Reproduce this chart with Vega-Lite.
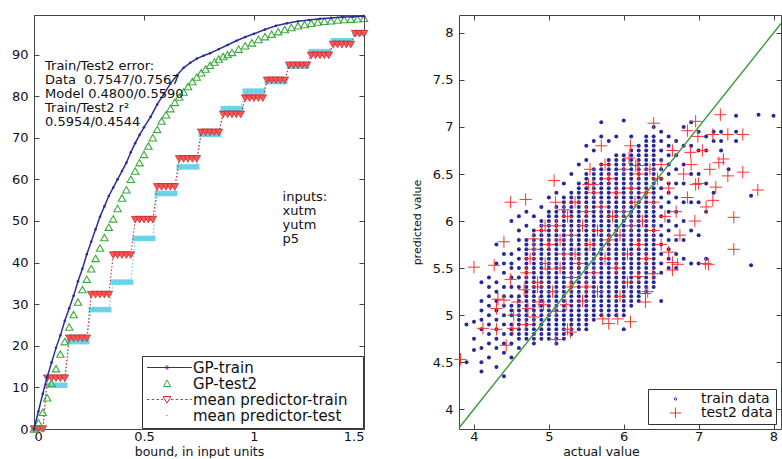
{
"$schema":"https://vega.github.io/schema/vega-lite/v6.json",
"background":"white",
"padding":{"left":10,"top":12,"right":0,"bottom":0},
"config":{"view":{"stroke":"#444","strokeWidth":1},"font":"DejaVu Sans",
"axis":{"labelFont":"DejaVu Sans","labelFontSize":13,"labelColor":"#111","titleFont":"DejaVu Sans","titleFontSize":13,"titleFontWeight":"normal","titleColor":"#111","grid":false,"domain":false,"tickColor":"#444","tickSize":-5,"labelPadding":11,"format":"~r"},
"legend":{"labelFont":"DejaVu Sans","labelFontSize":14,"labelColor":"#111","strokeColor":"#333","fillColor":"white","padding":4,"rowPadding":-1,"symbolSize":144,"symbolStrokeWidth":1,"labelLimit":400,"title":null,"orient":"bottom-right","offset":1}},
"datasets":{
"gptrain":[{"x":0,"y":0},{"x":0.02,"y":4.2},{"x":0.04,"y":8.5},{"x":0.06,"y":12.5},{"x":0.08,"y":16},{"x":0.1,"y":19.5},{"x":0.12,"y":22.5},{"x":0.14,"y":26},{"x":0.16,"y":29},{"x":0.18,"y":32},{"x":0.2,"y":35.5},{"x":0.22,"y":38.5},{"x":0.24,"y":42},{"x":0.26,"y":45},{"x":0.28,"y":48},{"x":0.3,"y":51},{"x":0.32,"y":53.5},{"x":0.34,"y":56},{"x":0.36,"y":58},{"x":0.38,"y":60},{"x":0.4,"y":62},{"x":0.42,"y":64},{"x":0.44,"y":66.5},{"x":0.46,"y":68.7},{"x":0.48,"y":70.7},{"x":0.5,"y":72.5},{"x":0.53,"y":75},{"x":0.56,"y":78},{"x":0.59,"y":80.5},{"x":0.62,"y":83},{"x":0.65,"y":85},{"x":0.68,"y":86.8},{"x":0.71,"y":88},{"x":0.74,"y":89},{"x":0.77,"y":89.7},{"x":0.8,"y":90.3},{"x":0.84,"y":91.3},{"x":0.88,"y":92.3},{"x":0.92,"y":93.3},{"x":0.96,"y":94.2},{"x":1,"y":95},{"x":1.05,"y":96},{"x":1.1,"y":96.9},{"x":1.15,"y":97.5},{"x":1.2,"y":98},{"x":1.25,"y":98.3},{"x":1.3,"y":98.6},{"x":1.35,"y":98.8},{"x":1.4,"y":99},{"x":1.45,"y":99.1},{"x":1.5,"y":99.2}],
"gptest":[{"x":0,"y":0},{"x":0.02,"y":1.5},{"x":0.04,"y":4},{"x":0.06,"y":7.5},{"x":0.08,"y":11},{"x":0.1,"y":14.5},{"x":0.12,"y":18},{"x":0.14,"y":21},{"x":0.16,"y":24.5},{"x":0.18,"y":27.5},{"x":0.2,"y":30.5},{"x":0.22,"y":33.5},{"x":0.24,"y":36},{"x":0.26,"y":38.5},{"x":0.28,"y":41},{"x":0.3,"y":43.5},{"x":0.32,"y":46},{"x":0.34,"y":48.5},{"x":0.36,"y":50.5},{"x":0.38,"y":53},{"x":0.4,"y":55.5},{"x":0.42,"y":57.5},{"x":0.44,"y":60},{"x":0.46,"y":62},{"x":0.48,"y":64},{"x":0.5,"y":66},{"x":0.52,"y":68},{"x":0.54,"y":70},{"x":0.56,"y":72},{"x":0.58,"y":74},{"x":0.6,"y":75.5},{"x":0.62,"y":77},{"x":0.64,"y":78.5},{"x":0.66,"y":79.8},{"x":0.68,"y":81},{"x":0.7,"y":82.3},{"x":0.72,"y":83.5},{"x":0.74,"y":84.6},{"x":0.76,"y":85.6},{"x":0.78,"y":86.5},{"x":0.8,"y":87.4},{"x":0.82,"y":88.2},{"x":0.84,"y":88.9},{"x":0.86,"y":89.5},{"x":0.88,"y":90},{"x":0.9,"y":90.5},{"x":0.93,"y":91.3},{"x":0.96,"y":92.1},{"x":0.99,"y":92.8},{"x":1.02,"y":93.6},{"x":1.05,"y":94.3},{"x":1.08,"y":94.9},{"x":1.11,"y":95.5},{"x":1.14,"y":96},{"x":1.17,"y":96.5},{"x":1.2,"y":96.9},{"x":1.23,"y":97.2},{"x":1.26,"y":97.5},{"x":1.29,"y":97.8},{"x":1.32,"y":98},{"x":1.35,"y":98.1},{"x":1.38,"y":98.3},{"x":1.41,"y":98.4},{"x":1.44,"y":98.5},{"x":1.47,"y":98.6},{"x":1.5,"y":98.7}],
"mtrain":[{"x":0,"y":0},{"x":0.02,"y":0},{"x":0.04,"y":0},{"x":0.06,"y":12.2},{"x":0.08,"y":12.2},{"x":0.1,"y":12.2},{"x":0.12,"y":12.2},{"x":0.14,"y":12.2},{"x":0.16,"y":21.8},{"x":0.18,"y":21.8},{"x":0.2,"y":21.8},{"x":0.22,"y":21.8},{"x":0.24,"y":21.8},{"x":0.26,"y":32.3},{"x":0.28,"y":32.3},{"x":0.3,"y":32.3},{"x":0.32,"y":32.3},{"x":0.34,"y":32.3},{"x":0.36,"y":41.8},{"x":0.38,"y":41.8},{"x":0.4,"y":41.8},{"x":0.42,"y":41.8},{"x":0.44,"y":41.8},{"x":0.46,"y":50.3},{"x":0.48,"y":50.3},{"x":0.5,"y":50.3},{"x":0.52,"y":50.3},{"x":0.54,"y":50.3},{"x":0.56,"y":58.2},{"x":0.58,"y":58.2},{"x":0.6,"y":58.2},{"x":0.62,"y":58.2},{"x":0.64,"y":58.2},{"x":0.66,"y":64.9},{"x":0.68,"y":64.9},{"x":0.7,"y":64.9},{"x":0.72,"y":64.9},{"x":0.74,"y":64.9},{"x":0.76,"y":71.3},{"x":0.78,"y":71.3},{"x":0.8,"y":71.3},{"x":0.82,"y":71.3},{"x":0.84,"y":71.3},{"x":0.86,"y":75.6},{"x":0.88,"y":75.6},{"x":0.9,"y":75.6},{"x":0.92,"y":75.6},{"x":0.94,"y":75.6},{"x":0.96,"y":79.5},{"x":0.98,"y":79.5},{"x":1,"y":79.5},{"x":1.02,"y":79.5},{"x":1.04,"y":79.5},{"x":1.06,"y":83.8},{"x":1.08,"y":83.8},{"x":1.1,"y":83.8},{"x":1.12,"y":83.8},{"x":1.14,"y":83.8},{"x":1.16,"y":87.4},{"x":1.18,"y":87.4},{"x":1.2,"y":87.4},{"x":1.22,"y":87.4},{"x":1.24,"y":87.4},{"x":1.26,"y":89.8},{"x":1.28,"y":89.8},{"x":1.3,"y":89.8},{"x":1.32,"y":89.8},{"x":1.34,"y":89.8},{"x":1.36,"y":92.4},{"x":1.38,"y":92.4},{"x":1.4,"y":92.4},{"x":1.42,"y":92.4},{"x":1.44,"y":92.4},{"x":1.46,"y":95},{"x":1.48,"y":95},{"x":1.5,"y":95}],
"mtest":[{"x":0,"y":0},{"x":0.02,"y":0},{"x":0.04,"y":0},{"x":0.06,"y":10.5},{"x":0.08,"y":10.5},{"x":0.1,"y":10.5},{"x":0.12,"y":10.5},{"x":0.14,"y":10.5},{"x":0.16,"y":21},{"x":0.18,"y":21},{"x":0.2,"y":21},{"x":0.22,"y":21},{"x":0.24,"y":21},{"x":0.26,"y":28.7},{"x":0.28,"y":28.7},{"x":0.3,"y":28.7},{"x":0.32,"y":28.7},{"x":0.34,"y":28.7},{"x":0.36,"y":35.3},{"x":0.38,"y":35.3},{"x":0.4,"y":35.3},{"x":0.42,"y":35.3},{"x":0.44,"y":35.3},{"x":0.46,"y":45.8},{"x":0.48,"y":45.8},{"x":0.5,"y":45.8},{"x":0.52,"y":45.8},{"x":0.54,"y":45.8},{"x":0.56,"y":56.6},{"x":0.58,"y":56.6},{"x":0.6,"y":56.6},{"x":0.62,"y":56.6},{"x":0.64,"y":56.6},{"x":0.66,"y":63},{"x":0.68,"y":63},{"x":0.7,"y":63},{"x":0.72,"y":63},{"x":0.74,"y":63},{"x":0.76,"y":70.8},{"x":0.78,"y":70.8},{"x":0.8,"y":70.8},{"x":0.82,"y":70.8},{"x":0.84,"y":70.8},{"x":0.86,"y":77},{"x":0.88,"y":77},{"x":0.9,"y":77},{"x":0.92,"y":77},{"x":0.94,"y":77},{"x":0.96,"y":81.2},{"x":0.98,"y":81.2},{"x":1,"y":81.2},{"x":1.02,"y":81.2},{"x":1.04,"y":81.2},{"x":1.06,"y":83.5},{"x":1.08,"y":83.5},{"x":1.1,"y":83.5},{"x":1.12,"y":83.5},{"x":1.14,"y":83.5},{"x":1.16,"y":87.2},{"x":1.18,"y":87.2},{"x":1.2,"y":87.2},{"x":1.22,"y":87.2},{"x":1.24,"y":87.2},{"x":1.26,"y":90.7},{"x":1.28,"y":90.7},{"x":1.3,"y":90.7},{"x":1.32,"y":90.7},{"x":1.34,"y":90.7},{"x":1.36,"y":93.3},{"x":1.38,"y":93.3},{"x":1.4,"y":93.3},{"x":1.42,"y":93.3},{"x":1.44,"y":93.3},{"x":1.46,"y":95.2},{"x":1.48,"y":95.2},{"x":1.5,"y":95.2}],
"leftkeys":[{"s":"GP-train"},{"s":"GP-test2"},{"s":"mean predictor-train"},{"s":"mean predictor-test"}],
"rightkeys":[{"s":"train data"},{"s":"test2 data"}],
"diag":[{"a":3.8,"p":3.8},{"a":8.1,"p":8.1}],
"train":[
{"a":3.9,"p":4.5},{"a":3.9,"p":4.9},
{"a":4.0,"p":4.63},{"a":4.0,"p":4.75},{"a":4.0,"p":4.93},
{"a":4.1,"p":4.4},{"a":4.1,"p":4.5},{"a":4.1,"p":4.65},{"a":4.1,"p":4.85},{"a":4.1,"p":4.95},{"a":4.1,"p":5.05},{"a":4.1,"p":5.15},{"a":4.1,"p":5.35},
{"a":4.2,"p":4.55},{"a":4.2,"p":4.7},{"a":4.2,"p":4.8},{"a":4.2,"p":4.9},{"a":4.2,"p":5.0},{"a":4.2,"p":5.1},{"a":4.2,"p":5.2},{"a":4.2,"p":5.3},{"a":4.2,"p":5.4},
{"a":4.3,"p":4.45},{"a":4.3,"p":4.65},{"a":4.3,"p":4.75},{"a":4.3,"p":4.85},{"a":4.3,"p":4.95},{"a":4.3,"p":5.05},{"a":4.3,"p":5.15},{"a":4.3,"p":5.25},{"a":4.3,"p":5.35},{"a":4.3,"p":5.55},{"a":4.3,"p":5.75},
{"a":4.4,"p":4.35},{"a":4.4,"p":4.6},{"a":4.4,"p":4.7},{"a":4.4,"p":4.8},{"a":4.4,"p":4.9},{"a":4.4,"p":5.0},{"a":4.4,"p":5.1},{"a":4.4,"p":5.2},{"a":4.4,"p":5.3},{"a":4.4,"p":5.45},{"a":4.4,"p":5.55},{"a":4.4,"p":5.65},
{"a":4.5,"p":4.55},{"a":4.5,"p":4.7},{"a":4.5,"p":4.8},{"a":4.5,"p":4.85},{"a":4.5,"p":4.9},{"a":4.5,"p":5.0},{"a":4.5,"p":5.05},{"a":4.5,"p":5.1},{"a":4.5,"p":5.2},{"a":4.5,"p":5.3},{"a":4.5,"p":5.4},{"a":4.5,"p":5.5},{"a":4.5,"p":5.55},{"a":4.5,"p":5.65},{"a":4.5,"p":6.0},
{"a":4.6,"p":4.65},{"a":4.6,"p":4.75},{"a":4.6,"p":4.8},{"a":4.6,"p":4.85},{"a":4.6,"p":4.9},{"a":4.6,"p":4.95},{"a":4.6,"p":5.0},{"a":4.6,"p":5.05},{"a":4.6,"p":5.1},{"a":4.6,"p":5.15},{"a":4.6,"p":5.2},{"a":4.6,"p":5.3},{"a":4.6,"p":5.4},{"a":4.6,"p":5.5},{"a":4.6,"p":5.6},{"a":4.6,"p":5.7},{"a":4.6,"p":5.8},{"a":4.6,"p":5.9},{"a":4.6,"p":6.05},
{"a":4.7,"p":4.75},{"a":4.7,"p":4.8},{"a":4.7,"p":4.85},{"a":4.7,"p":4.9},{"a":4.7,"p":4.95},{"a":4.7,"p":5.0},{"a":4.7,"p":5.05},{"a":4.7,"p":5.1},{"a":4.7,"p":5.15},{"a":4.7,"p":5.2},{"a":4.7,"p":5.25},{"a":4.7,"p":5.3},{"a":4.7,"p":5.35},{"a":4.7,"p":5.4},{"a":4.7,"p":5.45},{"a":4.7,"p":5.5},{"a":4.7,"p":5.55},{"a":4.7,"p":5.6},{"a":4.7,"p":5.65},{"a":4.7,"p":5.7},{"a":4.7,"p":5.75},{"a":4.7,"p":5.8},{"a":4.7,"p":5.95},{"a":4.7,"p":6.1},
{"a":4.8,"p":4.7},{"a":4.8,"p":4.75},{"a":4.8,"p":4.8},{"a":4.8,"p":4.85},{"a":4.8,"p":4.9},{"a":4.8,"p":4.95},{"a":4.8,"p":5.0},{"a":4.8,"p":5.05},{"a":4.8,"p":5.1},{"a":4.8,"p":5.15},{"a":4.8,"p":5.2},{"a":4.8,"p":5.25},{"a":4.8,"p":5.3},{"a":4.8,"p":5.35},{"a":4.8,"p":5.4},{"a":4.8,"p":5.45},{"a":4.8,"p":5.5},{"a":4.8,"p":5.55},{"a":4.8,"p":5.6},{"a":4.8,"p":5.65},{"a":4.8,"p":5.7},{"a":4.8,"p":5.75},{"a":4.8,"p":5.8},{"a":4.8,"p":5.85},{"a":4.8,"p":5.9},{"a":4.8,"p":6.05},
{"a":4.9,"p":4.75},{"a":4.9,"p":4.8},{"a":4.9,"p":4.85},{"a":4.9,"p":4.9},{"a":4.9,"p":4.95},{"a":4.9,"p":5.0},{"a":4.9,"p":5.05},{"a":4.9,"p":5.1},{"a":4.9,"p":5.15},{"a":4.9,"p":5.2},{"a":4.9,"p":5.25},{"a":4.9,"p":5.3},{"a":4.9,"p":5.35},{"a":4.9,"p":5.4},{"a":4.9,"p":5.45},{"a":4.9,"p":5.5},{"a":4.9,"p":5.55},{"a":4.9,"p":5.6},{"a":4.9,"p":5.65},{"a":4.9,"p":5.7},{"a":4.9,"p":5.75},{"a":4.9,"p":5.8},{"a":4.9,"p":5.85},{"a":4.9,"p":5.9},{"a":4.9,"p":5.95},{"a":4.9,"p":6.0},{"a":4.9,"p":6.15},
{"a":5.0,"p":4.75},{"a":5.0,"p":4.8},{"a":5.0,"p":4.85},{"a":5.0,"p":4.9},{"a":5.0,"p":4.95},{"a":5.0,"p":5.0},{"a":5.0,"p":5.05},{"a":5.0,"p":5.1},{"a":5.0,"p":5.15},{"a":5.0,"p":5.2},{"a":5.0,"p":5.25},{"a":5.0,"p":5.3},{"a":5.0,"p":5.35},{"a":5.0,"p":5.4},{"a":5.0,"p":5.45},{"a":5.0,"p":5.5},{"a":5.0,"p":5.55},{"a":5.0,"p":5.6},{"a":5.0,"p":5.65},{"a":5.0,"p":5.7},{"a":5.0,"p":5.75},{"a":5.0,"p":5.8},{"a":5.0,"p":5.85},{"a":5.0,"p":5.9},{"a":5.0,"p":5.95},{"a":5.0,"p":6.0},{"a":5.0,"p":6.05},{"a":5.0,"p":6.1},{"a":5.0,"p":6.25},
{"a":5.1,"p":4.7},{"a":5.1,"p":4.75},{"a":5.1,"p":4.8},{"a":5.1,"p":4.85},{"a":5.1,"p":4.9},{"a":5.1,"p":4.95},{"a":5.1,"p":5.0},{"a":5.1,"p":5.05},{"a":5.1,"p":5.1},{"a":5.1,"p":5.15},{"a":5.1,"p":5.2},{"a":5.1,"p":5.25},{"a":5.1,"p":5.3},{"a":5.1,"p":5.35},{"a":5.1,"p":5.4},{"a":5.1,"p":5.45},{"a":5.1,"p":5.5},{"a":5.1,"p":5.55},{"a":5.1,"p":5.6},{"a":5.1,"p":5.65},{"a":5.1,"p":5.7},{"a":5.1,"p":5.75},{"a":5.1,"p":5.8},{"a":5.1,"p":5.85},{"a":5.1,"p":5.9},{"a":5.1,"p":5.95},{"a":5.1,"p":6.0},{"a":5.1,"p":6.05},{"a":5.1,"p":6.1},{"a":5.1,"p":6.15},{"a":5.1,"p":6.3},
{"a":5.2,"p":4.75},{"a":5.2,"p":4.8},{"a":5.2,"p":4.85},{"a":5.2,"p":4.9},{"a":5.2,"p":4.95},{"a":5.2,"p":5.0},{"a":5.2,"p":5.05},{"a":5.2,"p":5.1},{"a":5.2,"p":5.15},{"a":5.2,"p":5.2},{"a":5.2,"p":5.25},{"a":5.2,"p":5.3},{"a":5.2,"p":5.35},{"a":5.2,"p":5.4},{"a":5.2,"p":5.45},{"a":5.2,"p":5.5},{"a":5.2,"p":5.55},{"a":5.2,"p":5.6},{"a":5.2,"p":5.65},{"a":5.2,"p":5.7},{"a":5.2,"p":5.75},{"a":5.2,"p":5.8},{"a":5.2,"p":5.85},{"a":5.2,"p":5.9},{"a":5.2,"p":5.95},{"a":5.2,"p":6.0},{"a":5.2,"p":6.05},{"a":5.2,"p":6.1},{"a":5.2,"p":6.15},{"a":5.2,"p":6.2},{"a":5.2,"p":6.25},{"a":5.2,"p":6.4},
{"a":5.3,"p":4.8},{"a":5.3,"p":4.85},{"a":5.3,"p":4.9},{"a":5.3,"p":4.95},{"a":5.3,"p":5.0},{"a":5.3,"p":5.05},{"a":5.3,"p":5.1},{"a":5.3,"p":5.15},{"a":5.3,"p":5.2},{"a":5.3,"p":5.25},{"a":5.3,"p":5.3},{"a":5.3,"p":5.35},{"a":5.3,"p":5.4},{"a":5.3,"p":5.45},{"a":5.3,"p":5.5},{"a":5.3,"p":5.55},{"a":5.3,"p":5.6},{"a":5.3,"p":5.65},{"a":5.3,"p":5.7},{"a":5.3,"p":5.75},{"a":5.3,"p":5.8},{"a":5.3,"p":5.85},{"a":5.3,"p":5.9},{"a":5.3,"p":5.95},{"a":5.3,"p":6.0},{"a":5.3,"p":6.05},{"a":5.3,"p":6.1},{"a":5.3,"p":6.15},{"a":5.3,"p":6.2},{"a":5.3,"p":6.25},{"a":5.3,"p":6.3},{"a":5.3,"p":6.5},
{"a":5.4,"p":4.85},{"a":5.4,"p":4.9},{"a":5.4,"p":4.95},{"a":5.4,"p":5.0},{"a":5.4,"p":5.05},{"a":5.4,"p":5.1},{"a":5.4,"p":5.15},{"a":5.4,"p":5.2},{"a":5.4,"p":5.25},{"a":5.4,"p":5.3},{"a":5.4,"p":5.35},{"a":5.4,"p":5.4},{"a":5.4,"p":5.45},{"a":5.4,"p":5.5},{"a":5.4,"p":5.55},{"a":5.4,"p":5.6},{"a":5.4,"p":5.65},{"a":5.4,"p":5.7},{"a":5.4,"p":5.75},{"a":5.4,"p":5.8},{"a":5.4,"p":5.85},{"a":5.4,"p":5.9},{"a":5.4,"p":5.95},{"a":5.4,"p":6.0},{"a":5.4,"p":6.05},{"a":5.4,"p":6.1},{"a":5.4,"p":6.15},{"a":5.4,"p":6.2},{"a":5.4,"p":6.25},{"a":5.4,"p":6.3},{"a":5.4,"p":6.35},{"a":5.4,"p":6.4},{"a":5.4,"p":6.6},
{"a":5.5,"p":4.85},{"a":5.5,"p":4.9},{"a":5.5,"p":4.95},{"a":5.5,"p":5.0},{"a":5.5,"p":5.05},{"a":5.5,"p":5.1},{"a":5.5,"p":5.15},{"a":5.5,"p":5.2},{"a":5.5,"p":5.25},{"a":5.5,"p":5.3},{"a":5.5,"p":5.35},{"a":5.5,"p":5.4},{"a":5.5,"p":5.45},{"a":5.5,"p":5.5},{"a":5.5,"p":5.55},{"a":5.5,"p":5.6},{"a":5.5,"p":5.65},{"a":5.5,"p":5.7},{"a":5.5,"p":5.75},{"a":5.5,"p":5.8},{"a":5.5,"p":5.85},{"a":5.5,"p":5.9},{"a":5.5,"p":5.95},{"a":5.5,"p":6.0},{"a":5.5,"p":6.05},{"a":5.5,"p":6.1},{"a":5.5,"p":6.15},{"a":5.5,"p":6.2},{"a":5.5,"p":6.25},{"a":5.5,"p":6.3},{"a":5.5,"p":6.35},{"a":5.5,"p":6.4},{"a":5.5,"p":6.45},{"a":5.5,"p":6.5},{"a":5.5,"p":6.65},{"a":5.5,"p":6.8},
{"a":5.6,"p":4.95},{"a":5.6,"p":5.0},{"a":5.6,"p":5.05},{"a":5.6,"p":5.1},{"a":5.6,"p":5.15},{"a":5.6,"p":5.2},{"a":5.6,"p":5.25},{"a":5.6,"p":5.3},{"a":5.6,"p":5.35},{"a":5.6,"p":5.4},{"a":5.6,"p":5.45},{"a":5.6,"p":5.5},{"a":5.6,"p":5.55},{"a":5.6,"p":5.6},{"a":5.6,"p":5.65},{"a":5.6,"p":5.7},{"a":5.6,"p":5.75},{"a":5.6,"p":5.8},{"a":5.6,"p":5.85},{"a":5.6,"p":5.9},{"a":5.6,"p":5.95},{"a":5.6,"p":6.0},{"a":5.6,"p":6.05},{"a":5.6,"p":6.1},{"a":5.6,"p":6.15},{"a":5.6,"p":6.2},{"a":5.6,"p":6.25},{"a":5.6,"p":6.3},{"a":5.6,"p":6.35},{"a":5.6,"p":6.4},{"a":5.6,"p":6.45},{"a":5.6,"p":6.5},{"a":5.6,"p":6.55},{"a":5.6,"p":6.75},{"a":5.6,"p":6.85},
{"a":5.7,"p":5.0},{"a":5.7,"p":5.05},{"a":5.7,"p":5.1},{"a":5.7,"p":5.15},{"a":5.7,"p":5.2},{"a":5.7,"p":5.25},{"a":5.7,"p":5.3},{"a":5.7,"p":5.35},{"a":5.7,"p":5.4},{"a":5.7,"p":5.45},{"a":5.7,"p":5.5},{"a":5.7,"p":5.55},{"a":5.7,"p":5.6},{"a":5.7,"p":5.65},{"a":5.7,"p":5.7},{"a":5.7,"p":5.75},{"a":5.7,"p":5.8},{"a":5.7,"p":5.85},{"a":5.7,"p":5.9},{"a":5.7,"p":5.95},{"a":5.7,"p":6.0},{"a":5.7,"p":6.05},{"a":5.7,"p":6.1},{"a":5.7,"p":6.15},{"a":5.7,"p":6.2},{"a":5.7,"p":6.25},{"a":5.7,"p":6.3},{"a":5.7,"p":6.35},{"a":5.7,"p":6.4},{"a":5.7,"p":6.45},{"a":5.7,"p":6.5},{"a":5.7,"p":6.55},{"a":5.7,"p":6.6},{"a":5.7,"p":6.9},{"a":5.7,"p":7.05},
{"a":5.8,"p":5.0},{"a":5.8,"p":5.05},{"a":5.8,"p":5.1},{"a":5.8,"p":5.15},{"a":5.8,"p":5.2},{"a":5.8,"p":5.25},{"a":5.8,"p":5.3},{"a":5.8,"p":5.35},{"a":5.8,"p":5.4},{"a":5.8,"p":5.45},{"a":5.8,"p":5.5},{"a":5.8,"p":5.55},{"a":5.8,"p":5.6},{"a":5.8,"p":5.65},{"a":5.8,"p":5.7},{"a":5.8,"p":5.75},{"a":5.8,"p":5.8},{"a":5.8,"p":5.85},{"a":5.8,"p":5.9},{"a":5.8,"p":5.95},{"a":5.8,"p":6.0},{"a":5.8,"p":6.05},{"a":5.8,"p":6.1},{"a":5.8,"p":6.15},{"a":5.8,"p":6.2},{"a":5.8,"p":6.25},{"a":5.8,"p":6.3},{"a":5.8,"p":6.35},{"a":5.8,"p":6.4},{"a":5.8,"p":6.45},{"a":5.8,"p":6.5},{"a":5.8,"p":6.55},{"a":5.8,"p":6.6},{"a":5.8,"p":6.65},{"a":5.8,"p":6.85},
{"a":5.9,"p":5.0},{"a":5.9,"p":5.05},{"a":5.9,"p":5.1},{"a":5.9,"p":5.15},{"a":5.9,"p":5.2},{"a":5.9,"p":5.25},{"a":5.9,"p":5.3},{"a":5.9,"p":5.35},{"a":5.9,"p":5.4},{"a":5.9,"p":5.45},{"a":5.9,"p":5.5},{"a":5.9,"p":5.55},{"a":5.9,"p":5.6},{"a":5.9,"p":5.65},{"a":5.9,"p":5.7},{"a":5.9,"p":5.75},{"a":5.9,"p":5.8},{"a":5.9,"p":5.85},{"a":5.9,"p":5.9},{"a":5.9,"p":5.95},{"a":5.9,"p":6.0},{"a":5.9,"p":6.05},{"a":5.9,"p":6.1},{"a":5.9,"p":6.15},{"a":5.9,"p":6.2},{"a":5.9,"p":6.25},{"a":5.9,"p":6.3},{"a":5.9,"p":6.35},{"a":5.9,"p":6.4},{"a":5.9,"p":6.45},{"a":5.9,"p":6.5},{"a":5.9,"p":6.55},{"a":5.9,"p":6.6},{"a":5.9,"p":6.65},{"a":5.9,"p":6.7},{"a":5.9,"p":6.9},
{"a":6.0,"p":4.85},{"a":6.0,"p":5.0},{"a":6.0,"p":5.05},{"a":6.0,"p":5.1},{"a":6.0,"p":5.15},{"a":6.0,"p":5.2},{"a":6.0,"p":5.25},{"a":6.0,"p":5.3},{"a":6.0,"p":5.35},{"a":6.0,"p":5.4},{"a":6.0,"p":5.45},{"a":6.0,"p":5.5},{"a":6.0,"p":5.55},{"a":6.0,"p":5.6},{"a":6.0,"p":5.65},{"a":6.0,"p":5.7},{"a":6.0,"p":5.75},{"a":6.0,"p":5.8},{"a":6.0,"p":5.85},{"a":6.0,"p":5.9},{"a":6.0,"p":5.95},{"a":6.0,"p":6.0},{"a":6.0,"p":6.05},{"a":6.0,"p":6.1},{"a":6.0,"p":6.15},{"a":6.0,"p":6.2},{"a":6.0,"p":6.25},{"a":6.0,"p":6.3},{"a":6.0,"p":6.35},{"a":6.0,"p":6.4},{"a":6.0,"p":6.45},{"a":6.0,"p":6.5},{"a":6.0,"p":6.55},{"a":6.0,"p":6.6},{"a":6.0,"p":6.65},{"a":6.0,"p":6.7},{"a":6.0,"p":7.07},
{"a":6.1,"p":5.1},{"a":6.1,"p":5.15},{"a":6.1,"p":5.2},{"a":6.1,"p":5.25},{"a":6.1,"p":5.3},{"a":6.1,"p":5.35},{"a":6.1,"p":5.4},{"a":6.1,"p":5.45},{"a":6.1,"p":5.5},{"a":6.1,"p":5.55},{"a":6.1,"p":5.6},{"a":6.1,"p":5.65},{"a":6.1,"p":5.7},{"a":6.1,"p":5.75},{"a":6.1,"p":5.8},{"a":6.1,"p":5.85},{"a":6.1,"p":5.9},{"a":6.1,"p":5.95},{"a":6.1,"p":6.0},{"a":6.1,"p":6.05},{"a":6.1,"p":6.1},{"a":6.1,"p":6.15},{"a":6.1,"p":6.2},{"a":6.1,"p":6.25},{"a":6.1,"p":6.3},{"a":6.1,"p":6.35},{"a":6.1,"p":6.4},{"a":6.1,"p":6.45},{"a":6.1,"p":6.5},{"a":6.1,"p":6.55},{"a":6.1,"p":6.6},{"a":6.1,"p":6.65},{"a":6.1,"p":6.7},{"a":6.1,"p":6.75},{"a":6.1,"p":6.9},
{"a":6.2,"p":5.15},{"a":6.2,"p":5.2},{"a":6.2,"p":5.25},{"a":6.2,"p":5.3},{"a":6.2,"p":5.35},{"a":6.2,"p":5.4},{"a":6.2,"p":5.45},{"a":6.2,"p":5.5},{"a":6.2,"p":5.55},{"a":6.2,"p":5.6},{"a":6.2,"p":5.65},{"a":6.2,"p":5.7},{"a":6.2,"p":5.75},{"a":6.2,"p":5.8},{"a":6.2,"p":5.85},{"a":6.2,"p":5.9},{"a":6.2,"p":5.95},{"a":6.2,"p":6.0},{"a":6.2,"p":6.05},{"a":6.2,"p":6.1},{"a":6.2,"p":6.15},{"a":6.2,"p":6.2},{"a":6.2,"p":6.25},{"a":6.2,"p":6.3},{"a":6.2,"p":6.35},{"a":6.2,"p":6.4},{"a":6.2,"p":6.45},{"a":6.2,"p":6.5},{"a":6.2,"p":6.55},{"a":6.2,"p":6.6},{"a":6.2,"p":6.65},{"a":6.2,"p":6.7},{"a":6.2,"p":6.75},{"a":6.2,"p":6.8},
{"a":6.3,"p":5.25},{"a":6.3,"p":5.3},{"a":6.3,"p":5.35},{"a":6.3,"p":5.4},{"a":6.3,"p":5.45},{"a":6.3,"p":5.5},{"a":6.3,"p":5.55},{"a":6.3,"p":5.6},{"a":6.3,"p":5.65},{"a":6.3,"p":5.7},{"a":6.3,"p":5.75},{"a":6.3,"p":5.8},{"a":6.3,"p":5.85},{"a":6.3,"p":5.9},{"a":6.3,"p":5.95},{"a":6.3,"p":6.0},{"a":6.3,"p":6.05},{"a":6.3,"p":6.1},{"a":6.3,"p":6.15},{"a":6.3,"p":6.2},{"a":6.3,"p":6.25},{"a":6.3,"p":6.3},{"a":6.3,"p":6.35},{"a":6.3,"p":6.4},{"a":6.3,"p":6.45},{"a":6.3,"p":6.5},{"a":6.3,"p":6.55},{"a":6.3,"p":6.6},{"a":6.3,"p":6.65},{"a":6.3,"p":6.7},{"a":6.3,"p":6.75},{"a":6.3,"p":6.8},{"a":6.3,"p":6.85},{"a":6.3,"p":6.9},
{"a":6.4,"p":5.3},{"a":6.4,"p":5.35},{"a":6.4,"p":5.4},{"a":6.4,"p":5.45},{"a":6.4,"p":5.5},{"a":6.4,"p":5.55},{"a":6.4,"p":5.6},{"a":6.4,"p":5.65},{"a":6.4,"p":5.7},{"a":6.4,"p":5.75},{"a":6.4,"p":5.8},{"a":6.4,"p":5.85},{"a":6.4,"p":5.9},{"a":6.4,"p":5.95},{"a":6.4,"p":6.0},{"a":6.4,"p":6.05},{"a":6.4,"p":6.1},{"a":6.4,"p":6.15},{"a":6.4,"p":6.2},{"a":6.4,"p":6.25},{"a":6.4,"p":6.3},{"a":6.4,"p":6.35},{"a":6.4,"p":6.4},{"a":6.4,"p":6.45},{"a":6.4,"p":6.5},{"a":6.4,"p":6.55},{"a":6.4,"p":6.6},{"a":6.4,"p":6.65},{"a":6.4,"p":6.7},{"a":6.4,"p":6.75},{"a":6.4,"p":6.8},{"a":6.4,"p":6.85},{"a":6.4,"p":6.9},{"a":6.4,"p":7.0},
{"a":6.5,"p":5.15},{"a":6.5,"p":5.45},{"a":6.5,"p":5.55},{"a":6.5,"p":5.65},{"a":6.5,"p":5.75},{"a":6.5,"p":5.85},{"a":6.5,"p":5.95},{"a":6.5,"p":6.05},{"a":6.5,"p":6.15},{"a":6.5,"p":6.25},{"a":6.5,"p":6.35},{"a":6.5,"p":6.45},{"a":6.5,"p":6.55},{"a":6.5,"p":6.65},{"a":6.5,"p":6.75},{"a":6.5,"p":6.85},{"a":6.5,"p":6.95},
{"a":6.6,"p":5.5},{"a":6.6,"p":5.6},{"a":6.6,"p":5.7},{"a":6.6,"p":5.8},{"a":6.6,"p":5.9},{"a":6.6,"p":6.0},{"a":6.6,"p":6.1},{"a":6.6,"p":6.2},{"a":6.6,"p":6.3},{"a":6.6,"p":6.4},{"a":6.6,"p":6.5},{"a":6.6,"p":6.6},{"a":6.6,"p":6.7},{"a":6.6,"p":6.8},{"a":6.6,"p":6.9},
{"a":6.7,"p":5.5},{"a":6.7,"p":5.65},{"a":6.7,"p":5.8},{"a":6.7,"p":5.95},{"a":6.7,"p":6.1},{"a":6.7,"p":6.25},{"a":6.7,"p":6.4},{"a":6.7,"p":6.55},{"a":6.7,"p":6.7},{"a":6.7,"p":6.85},
{"a":6.8,"p":5.6},{"a":6.8,"p":5.8},{"a":6.8,"p":6.0},{"a":6.8,"p":6.2},{"a":6.8,"p":6.4},{"a":6.8,"p":6.6},{"a":6.8,"p":6.8},{"a":6.8,"p":7.0},
{"a":6.9,"p":5.55},{"a":6.9,"p":5.9},{"a":6.9,"p":6.2},{"a":6.9,"p":6.5},{"a":6.9,"p":6.8},{"a":6.9,"p":7.05},
{"a":7.0,"p":5.55},{"a":7.0,"p":5.85},{"a":7.0,"p":6.2},{"a":7.0,"p":6.5},{"a":7.0,"p":6.75},{"a":7.0,"p":6.95},
{"a":7.1,"p":5.6},{"a":7.1,"p":6.1},{"a":7.1,"p":6.4},{"a":7.1,"p":6.75},{"a":7.1,"p":6.9},
{"a":7.2,"p":6.3},{"a":7.2,"p":6.85},{"a":7.2,"p":6.95},
{"a":7.3,"p":6.75},{"a":7.3,"p":6.85},{"a":7.3,"p":6.95},
{"a":7.4,"p":6.55},
{"a":7.5,"p":6.85},{"a":7.5,"p":6.95},{"a":7.5,"p":7.12},
{"a":7.7,"p":5.53},{"a":7.7,"p":6.27},
{"a":7.8,"p":7.13},{"a":8.0,"p":7.12}
],
"test":[
{"a":3.82,"p":4.53},{"a":4.0,"p":5.51},{"a":4.12,"p":4.86},{"a":4.3,"p":4.85},{"a":4.32,"p":5.17},{"a":4.43,"p":4.68},{"a":4.52,"p":4.86},{"a":4.4,"p":5.78},{"a":4.49,"p":6.2},{"a":4.69,"p":6.23},{"a":4.27,"p":5.53},{"a":4.49,"p":5.38},{"a":4.58,"p":5.14},{"a":4.72,"p":5.07},{"a":4.3,"p":5.07},{"a":4.4,"p":5.16},{"a":4.67,"p":5.27},{"a":4.53,"p":5.0},{"a":4.69,"p":4.9},{"a":4.8,"p":4.98},{"a":4.85,"p":5.3},{"a":5.09,"p":5.04},{"a":5.25,"p":4.85},{"a":5.09,"p":4.74},{"a":5.29,"p":4.82},{"a":5.72,"p":4.96},{"a":5.8,"p":4.91},{"a":5.92,"p":4.96},{"a":6.09,"p":4.93},{"a":6.29,"p":5.23},{"a":6.29,"p":5.14},{"a":6.19,"p":5.41},{"a":5.29,"p":5.3},{"a":5.23,"p":5.11},{"a":4.93,"p":5.11},{"a":4.8,"p":5.7},{"a":4.98,"p":5.49},{"a":4.87,"p":5.14},{"a":5.07,"p":6.43},{"a":5.09,"p":6.2},{"a":5.2,"p":6.12},{"a":5.53,"p":6.39},{"a":5.59,"p":6.39},{"a":5.7,"p":6.8},{"a":6.09,"p":6.8},{"a":6.07,"p":6.67},{"a":6.19,"p":6.59},{"a":6.4,"p":7.04},{"a":6.96,"p":7.06},{"a":7.29,"p":7.13},{"a":7.59,"p":6.92},{"a":7.39,"p":6.92},{"a":7.19,"p":6.92},{"a":6.99,"p":6.9},{"a":7.33,"p":6.66},{"a":7.59,"p":6.52},{"a":7.79,"p":6.33},{"a":7.39,"p":6.48},{"a":7.23,"p":6.36},{"a":7.47,"p":6.04},{"a":7.47,"p":5.7},{"a":7.09,"p":5.55},{"a":6.65,"p":5.56},{"a":6.6,"p":5.67},{"a":6.72,"p":5.54},{"a":7.13,"p":5.54},{"a":6.32,"p":5.25},{"a":4.79,"p":5.81},{"a":6.85,"p":6.96},{"a":6.89,"p":6.73},{"a":6.96,"p":6.39},{"a":7.19,"p":6.22},{"a":7.27,"p":6.62},{"a":6.39,"p":5.44},{"a":6.65,"p":5.48},{"a":6.16,"p":6.59},
{"a":4.7,"p":5.45},{"a":4.75,"p":5.6},{"a":4.85,"p":5.35},{"a":4.9,"p":5.9},{"a":4.95,"p":5.55},{"a":5.0,"p":5.75},{"a":5.05,"p":5.25},{"a":5.1,"p":5.95},{"a":5.15,"p":5.5},{"a":5.2,"p":5.65},{"a":5.25,"p":6.05},{"a":5.3,"p":5.4},{"a":5.3,"p":5.85},{"a":5.35,"p":6.2},{"a":5.4,"p":5.55},{"a":5.45,"p":5.95},{"a":5.5,"p":5.3},{"a":5.5,"p":6.1},{"a":5.55,"p":5.75},{"a":5.6,"p":6.3},{"a":5.6,"p":5.45},{"a":5.65,"p":5.9},{"a":5.7,"p":6.15},{"a":5.75,"p":5.6},{"a":5.8,"p":6.45},{"a":5.8,"p":5.8},{"a":5.85,"p":6.05},{"a":5.9,"p":5.5},{"a":5.9,"p":6.3},{"a":5.95,"p":5.85},{"a":6.0,"p":6.55},{"a":6.0,"p":6.1},{"a":6.05,"p":5.65},{"a":6.1,"p":6.35},{"a":6.1,"p":5.95},{"a":6.15,"p":6.2},{"a":6.2,"p":5.75},{"a":6.2,"p":6.5},{"a":6.25,"p":6.0},{"a":6.3,"p":6.3},{"a":6.3,"p":5.6},{"a":6.35,"p":6.55},{"a":6.4,"p":5.9},{"a":6.4,"p":6.2},{"a":6.45,"p":6.45},{"a":6.5,"p":5.75},{"a":6.5,"p":6.6},{"a":6.55,"p":6.05},{"a":6.6,"p":6.35},{"a":6.65,"p":6.75},{"a":6.7,"p":6.1},{"a":6.75,"p":5.85},{"a":6.8,"p":6.5},{"a":6.85,"p":6.25},{"a":6.9,"p":6.6},{"a":6.95,"p":6.0},{"a":7.0,"p":6.4},{"a":7.05,"p":6.75},{"a":7.1,"p":6.15},{"a":7.15,"p":6.55},{"a":5.15,"p":5.8},{"a":5.45,"p":5.15},{"a":5.65,"p":5.25},{"a":5.95,"p":5.2},{"a":5.35,"p":5.65},{"a":4.95,"p":5.95},{"a":5.55,"p":6.55},{"a":5.75,"p":6.6},{"a":6.05,"p":5.35}
]
},
"spacing":39,
"hconcat":[
{"width":330,"height":414,
"layer":[
{"data":{"name":"mtest"},"mark":{"type":"line","color":"#56c8e0","strokeWidth":1,"strokeDash":[1.5,2]},"encoding":{"x":{"field":"x","type":"quantitative","scale":{"domain":[0,1.5],"nice":false,"zero":false},"axis":null},"y":{"field":"y","type":"quantitative","scale":{"domain":[0,99.5],"nice":false,"zero":false},"axis":null}}},
{"data":{"name":"mtest"},"mark":{"type":"point","shape":"square","filled":true,"color":"#5fd0e8","size":30,"opacity":0.9},"encoding":{"x":{"field":"x","type":"quantitative","scale":{"domain":[0,1.5],"nice":false,"zero":false},"axis":null},"y":{"field":"y","type":"quantitative","scale":{"domain":[0,99.5],"nice":false,"zero":false},"axis":null}}},
{"data":{"name":"mtrain"},"mark":{"type":"line","color":"#c82020","strokeWidth":1,"strokeDash":[1.5,2]},"encoding":{"x":{"field":"x","type":"quantitative","scale":{"domain":[0,1.5],"nice":false,"zero":false},"axis":null},"y":{"field":"y","type":"quantitative","scale":{"domain":[0,99.5],"nice":false,"zero":false},"axis":null}}},
{"data":{"name":"mtrain"},"mark":{"type":"point","shape":"triangle-down","filled":true,"fill":"#ff5252","stroke":"#a82020","strokeWidth":0.6,"size":60,"opacity":1},"encoding":{"x":{"field":"x","type":"quantitative","scale":{"domain":[0,1.5],"nice":false,"zero":false},"axis":null},"y":{"field":"y","type":"quantitative","scale":{"domain":[0,99.5],"nice":false,"zero":false},"axis":null}}},
{"data":{"name":"gptest"},"mark":{"type":"point","shape":"triangle-up","filled":false,"color":"#3caa3c","strokeWidth":1.1,"size":55,"opacity":1},"encoding":{"x":{"field":"x","type":"quantitative","scale":{"domain":[0,1.5],"nice":false,"zero":false},"axis":{"orient":"bottom","values":[0,0.5,1,1.5],"title":"bound, in input units","titlePadding":2,"labelPadding":6,"titleFontSize":12.5}},"y":{"field":"y","type":"quantitative","scale":{"domain":[0,99.5],"nice":false,"zero":false},"axis":{"orient":"left","values":[0,10,20,30,40,50,60,70,80,90],"title":null}}}},
{"data":{"name":"gptrain"},"mark":{"type":"line","color":"#2e2e9a","strokeWidth":1.5},"encoding":{"x":{"field":"x","type":"quantitative","scale":{"domain":[0,1.5],"nice":false,"zero":false},"axis":{"orient":"top","values":[0,0.5,1,1.5],"labels":false,"title":null}},"y":{"field":"y","type":"quantitative","scale":{"domain":[0,99.5],"nice":false,"zero":false},"axis":{"orient":"right","values":[0,10,20,30,40,50,60,70,80,90],"labels":false,"title":null}}}},
{"data":{"name":"gptrain"},"mark":{"type":"point","shape":"circle","filled":true,"color":"#2e2e9a","size":7,"opacity":1},"encoding":{"x":{"field":"x","type":"quantitative","scale":{"domain":[0,1.5],"nice":false,"zero":false},"axis":null},"y":{"field":"y","type":"quantitative","scale":{"domain":[0,99.5],"nice":false,"zero":false},"axis":null}}},
{"data":{"values":[{}]},"mark":{"type":"text","align":"left","baseline":"top","font":"DejaVu Sans","fontSize":13,"lineHeight":14,"color":"#111"},"encoding":{"x":{"datum":0.05,"type":"quantitative","scale":{"domain":[0,1.5],"nice":false,"zero":false},"axis":null},"y":{"datum":88.8,"type":"quantitative","scale":{"domain":[0,99.5],"nice":false,"zero":false},"axis":null},"text":{"value":["Train/Test2 error:","Data\u00a0 0.7547/0.7567","Model 0.4800/0.5590","Train/Test2 r²","0.5954/0.4544"]}}},
{"data":{"values":[{}]},"mark":{"type":"text","align":"left","baseline":"top","font":"DejaVu Sans","fontSize":13,"lineHeight":14,"color":"#111"},"encoding":{"x":{"datum":1.13,"type":"quantitative","scale":{"domain":[0,1.5],"nice":false,"zero":false},"axis":null},"y":{"datum":57.2,"type":"quantitative","scale":{"domain":[0,99.5],"nice":false,"zero":false},"axis":null},"text":{"value":["inputs:","xutm","yutm","p5"]}}},
{"data":{"name":"leftkeys"},"mark":{"type":"point","filled":false},"encoding":{"color":{"field":"s","type":"nominal","scale":{"domain":["GP-train","GP-test2","mean predictor-train","mean predictor-test"],"range":["#2e2e9a","#3caa3c","#d82828","#56c8e0"]},"legend":{"orient":"bottom-right","offset":1,"labelOffset":32,"padding":4,"labelFontSize":15,"rowPadding":-2,"labelExpr":"datum.label + '\u2800'"}},"shape":{"field":"s","type":"nominal","scale":{"domain":["GP-train","GP-test2","mean predictor-train","mean predictor-test"],"range":["M-1.08,0H6.4M2.0,0A0.25,0.25 0 1,1 2.5,0A0.25,0.25 0 1,1 2.0,0","M1.65,0.5L2.85,0.5L2.25,-0.6Z","M-1.08,0H-0.7M-0.3,0H0.1M0.5,0H0.9M1.3,0H1.6M2.9,0H3.3M3.7,0H4.1M4.5,0H4.9M5.3,0H5.7M6.1,0H6.4M1.6,-0.5L2.9,-0.5L2.25,0.6Z","M2.1,0H2.4"]}},"opacity":{"value":0}}}
],
"resolve":{"axis":{"x":"independent","y":"independent"}}
},
{"width":322,"height":414,
"layer":[
{"data":{"name":"train"},"mark":{"type":"point","shape":"circle","filled":true,"color":"#28289a","size":16,"opacity":1},"encoding":{"x":{"field":"a","type":"quantitative","scale":{"domain":[3.8,8.1],"nice":false,"zero":false},"axis":{"orient":"bottom","values":[4,5,6,7,8],"title":"actual value","titlePadding":2,"labelPadding":6,"titleX":142,"titleFontSize":12.5}},"y":{"field":"p","type":"quantitative","scale":{"domain":[3.79,8.19],"nice":false,"zero":false},"axis":{"orient":"left","values":[4,4.5,5,5.5,6,6.5,7,7.5,8],"title":"predicted value","titleFontSize":11,"titlePadding":10}}}},
{"data":{"name":"test"},"mark":{"type":"point","shape":"M-1,0H1M0,-1V1","filled":false,"color":"#ff3030","strokeWidth":1,"size":150,"opacity":1},"encoding":{"x":{"field":"a","type":"quantitative","scale":{"domain":[3.8,8.1],"nice":false,"zero":false},"axis":null},"y":{"field":"p","type":"quantitative","scale":{"domain":[3.79,8.19],"nice":false,"zero":false},"axis":null}}},
{"data":{"name":"diag"},"mark":{"type":"line","color":"#3a9a3a","strokeWidth":1.4},"encoding":{"x":{"field":"a","type":"quantitative","scale":{"domain":[3.8,8.1],"nice":false,"zero":false},"axis":{"orient":"top","values":[4,5,6,7,8],"labels":false,"title":null}},"y":{"field":"p","type":"quantitative","scale":{"domain":[3.79,8.19],"nice":false,"zero":false},"axis":{"orient":"right","values":[4,4.5,5,5.5,6,6.5,7,7.5,8],"labels":false,"title":null}}}},
{"data":{"name":"rightkeys"},"mark":{"type":"point","filled":false},"encoding":{"color":{"field":"s","type":"nominal","scale":{"domain":["train data","test2 data"],"range":["#28289a","#ff3030"]},"legend":{"orient":"bottom-right","offset":5,"labelOffset":36,"padding":3}},"shape":{"field":"s","type":"nominal","scale":{"domain":["train data","test2 data"],"range":["M2.72,0A0.2,0.2 0 1,1 3.12,0A0.2,0.2 0 1,1 2.72,0","M2.0,0H3.84M2.92,-0.9V0.9"]}},"opacity":{"value":0}}}
],
"resolve":{"axis":{"x":"independent","y":"independent"}}
}
],
"resolve":{"scale":{"color":"independent","shape":"independent"},"legend":{"color":"independent","shape":"independent"}}
}
